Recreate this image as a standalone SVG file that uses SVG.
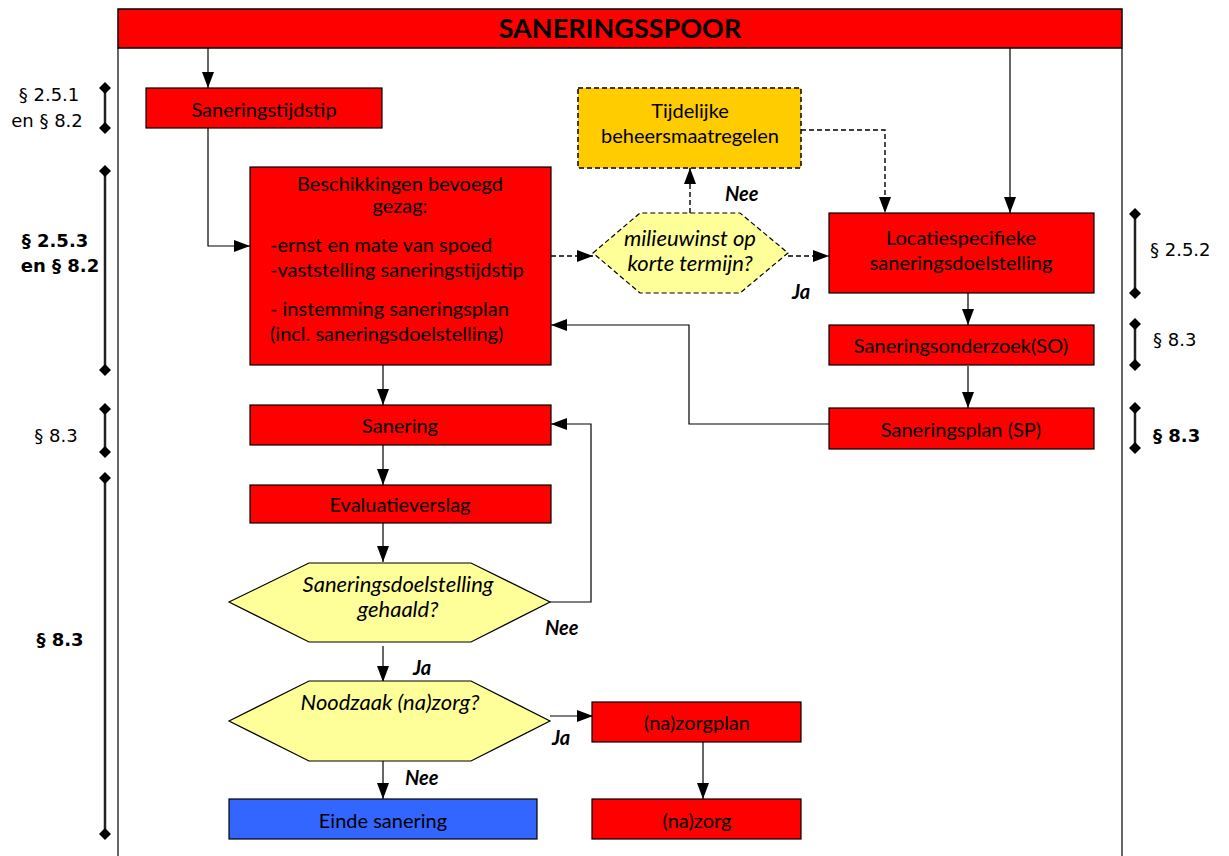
<svg xmlns="http://www.w3.org/2000/svg" width="1229" height="856" viewBox="0 0 1229 856">
  <style>
    .box { fill: #FF0000; stroke: #000; stroke-width: 1.2; }
    .amber { fill: #FFCC00; stroke: #000; stroke-width: 1.5; stroke-dasharray: 5 3; }
    .blue { fill: #3366FF; stroke: #000; stroke-width: 1.2; }
    .hex { fill: #FFFF99; stroke: #000; stroke-width: 1.2; }
    .hexd { fill: #FFFF99; stroke: #000; stroke-width: 1.2; stroke-dasharray: 5 3; }
    .t { font-family: Lato, "Liberation Sans", sans-serif; font-size: 20px; fill: #000; text-anchor: middle; }
    .tl { font-family: Lato, "Liberation Sans", sans-serif; font-size: 20px; fill: #000; }
    .q { font-family: Lato, "Liberation Sans", sans-serif; font-size: 22px; font-style: italic; fill: #000; text-anchor: middle; }
    .lab { font-family: Lato, "Liberation Sans", sans-serif; font-size: 20px; font-style: italic; font-weight: bold; fill: #000; }
    .ref { font-family: "DejaVu Sans", sans-serif; font-size: 18px; fill: #000; text-anchor: middle; }
    .refb { font-family: "DejaVu Sans", sans-serif; font-size: 18px; font-weight: bold; fill: #000; text-anchor: middle; }
    .refr { font-family: "DejaVu Sans", sans-serif; font-size: 18px; fill: #000; }
    .refrb { font-family: "DejaVu Sans", sans-serif; font-size: 18px; font-weight: bold; fill: #000; }
    .c { fill: none; stroke: #000; stroke-width: 1.2; marker-end: url(#ah); }
    .cd { fill: none; stroke: #000; stroke-width: 1.4; stroke-dasharray: 5 3; marker-end: url(#ah); }
    .br { stroke: #222; stroke-width: 2.5; marker-start: url(#dm); marker-end: url(#dm); }
    .frame { stroke: #000; stroke-width: 1.2; fill: none; }
  </style>
  <defs>
    <marker id="ah" markerUnits="userSpaceOnUse" markerWidth="16" markerHeight="12" refX="16" refY="6" orient="auto">
      <path d="M0,0 L16,6 L0,12 z" fill="#000"/>
    </marker>
    <marker id="dm" markerUnits="userSpaceOnUse" markerWidth="12" markerHeight="12" refX="6" refY="6" orient="auto">
      <path d="M6,0 L12,6 L6,12 L0,6 z" fill="#000"/>
    </marker>
  </defs>

  <rect width="1229" height="856" fill="#FFFFFF"/>

  <!-- frame of the track -->
  <g id="frame">
    <line class="frame" x1="118" y1="48" x2="118" y2="856"/>
    <line class="frame" x1="1122" y1="48" x2="1122" y2="856"/>
  </g>

  <!-- header -->
  <g id="header">
    <rect x="118" y="9" width="1004" height="39" fill="#FF0000" stroke="#000" stroke-width="1.5"/>
    <text x="620" y="38" font-family="Lato, 'Liberation Sans', sans-serif" font-size="27" font-weight="bold" text-anchor="middle" fill="#000">SANERINGSSPOOR</text>
  </g>

  <!-- paragraph references, left -->
  <g id="refs-left">
    <line class="br" x1="105" y1="88" x2="105" y2="128"/>
    <text class="ref" x="49" y="101">§ 2.5.1</text>
    <text class="ref" x="47" y="127">en § 8.2</text>
    <line class="br" x1="105" y1="171" x2="105" y2="370"/>
    <text class="refb" x="55" y="247">§ 2.5.3</text>
    <text class="refb" x="60" y="272">en § 8.2</text>
    <line class="br" x1="105" y1="409" x2="105" y2="452"/>
    <text class="ref" x="56" y="442">§ 8.3</text>
    <line class="br" x1="105" y1="478" x2="105" y2="834"/>
    <text class="refb" x="60" y="646">§ 8.3</text>
  </g>

  <!-- paragraph references, right -->
  <g id="refs-right">
    <line class="br" x1="1135" y1="214" x2="1135" y2="293"/>
    <text class="refr" x="1150" y="256">§ 2.5.2</text>
    <line class="br" x1="1135" y1="324" x2="1135" y2="365"/>
    <text class="refr" x="1153" y="346">§ 8.3</text>
    <line class="br" x1="1135" y1="408" x2="1135" y2="448"/>
    <text class="refrb" x="1153" y="442">§ 8.3</text>
  </g>

  <!-- connectors -->
  <g id="connectors">
    <path class="c" d="M208,48 V88"/>
    <path class="c" d="M208,128 V246 H250"/>
    <path class="c" d="M1010,48 V213"/>
    <path class="cd" d="M551,256 H593"/>
    <path class="cd" d="M788,256 H829"/>
    <path class="cd" d="M690,213 V168"/>
    <path class="cd" d="M801,130 H885 V213"/>
    <path class="c" d="M968,293 V325"/>
    <path class="c" d="M968,366 V408"/>
    <path class="c" d="M829,424 H689 V325 H551"/>
    <path class="c" d="M383,365 V405"/>
    <path class="c" d="M383,445 V485"/>
    <path class="c" d="M383,523 V562"/>
    <path class="c" d="M550,602 H591 V424 H551"/>
    <path class="c" d="M383,646 V682"/>
    <path class="c" d="M550,716 H593"/>
    <path class="c" d="M703,742 V799"/>
    <path class="c" d="M383,758 V799"/>
    <text class="lab" x="725" y="201">Nee</text>
    <text class="lab" x="792" y="299">Ja</text>
    <text class="lab" x="545" y="635">Nee</text>
    <text class="lab" x="413" y="675">Ja</text>
    <text class="lab" x="552" y="745">Ja</text>
    <text class="lab" x="405" y="785">Nee</text>
  </g>

  <g id="n-saneringstijdstip">
    <rect class="box" x="146" y="88" width="236" height="40"/>
    <text class="t" x="264" y="117">Saneringstijdstip</text>
  </g>

  <g id="n-beschikkingen">
    <rect class="box" x="250" y="167" width="301" height="198"/>
    <text class="t" x="400" y="191">Beschikkingen bevoegd</text>
    <text class="t" x="400" y="213">gezag:</text>
    <text class="tl" x="270" y="252">-ernst en mate van spoed</text>
    <text class="tl" x="270" y="277">-vaststelling saneringstijdstip</text>
    <text class="tl" x="270" y="316">- instemming saneringsplan</text>
    <text class="tl" x="270" y="341">(incl. saneringsdoelstelling)</text>
  </g>

  <g id="n-tijdelijke">
    <rect class="amber" x="578" y="88" width="223" height="80"/>
    <text class="t" x="690" y="118">Tijdelijke</text>
    <text class="t" x="690" y="143">beheersmaatregelen</text>
  </g>

  <g id="n-milieuwinst">
    <polygon class="hexd" points="593,253 640,213 740,213 788,253 740,293 640,293"/>
    <text class="q" x="690" y="246">milieuwinst op</text>
    <text class="q" x="690" y="271">korte termijn?</text>
  </g>

  <g id="n-locatiespecifiek">
    <rect class="box" x="829" y="213" width="265" height="80"/>
    <text class="t" x="961" y="245">Locatiespecifieke</text>
    <text class="t" x="961" y="270">saneringsdoelstelling</text>
  </g>

  <g id="n-so">
    <rect class="box" x="829" y="325" width="265" height="40"/>
    <text class="t" x="961" y="353">Saneringsonderzoek(SO)</text>
  </g>

  <g id="n-sp">
    <rect class="box" x="829" y="408" width="265" height="41"/>
    <text class="t" x="961" y="437">Saneringsplan (SP)</text>
  </g>

  <g id="n-sanering">
    <rect class="box" x="250" y="405" width="301" height="40"/>
    <text class="t" x="400" y="433">Sanering</text>
  </g>

  <g id="n-evaluatie">
    <rect class="box" x="250" y="485" width="301" height="38"/>
    <text class="t" x="400" y="512">Evaluatieverslag</text>
  </g>

  <g id="n-gehaald">
    <polygon class="hex" points="229,602 309,563 471,563 550,602 471,642 309,642"/>
    <text class="q" x="398" y="592">Saneringsdoelstelling</text>
    <text class="q" x="398" y="617">gehaald?</text>
  </g>

  <g id="n-noodzaak">
    <polygon class="hex" points="229,721 309,681 471,681 550,721 471,761 309,761"/>
    <text class="q" x="390" y="710">Noodzaak (na)zorg?</text>
  </g>

  <g id="n-zorgplan">
    <rect class="box" x="592" y="702" width="209" height="40"/>
    <text class="t" x="697" y="730">(na)zorgplan</text>
  </g>

  <g id="n-zorg">
    <rect class="box" x="592" y="799" width="209" height="40"/>
    <text class="t" x="697" y="828">(na)zorg</text>
  </g>

  <g id="n-einde">
    <rect class="blue" x="229" y="799" width="308" height="40"/>
    <text class="t" x="383" y="828">Einde sanering</text>
  </g>
</svg>
